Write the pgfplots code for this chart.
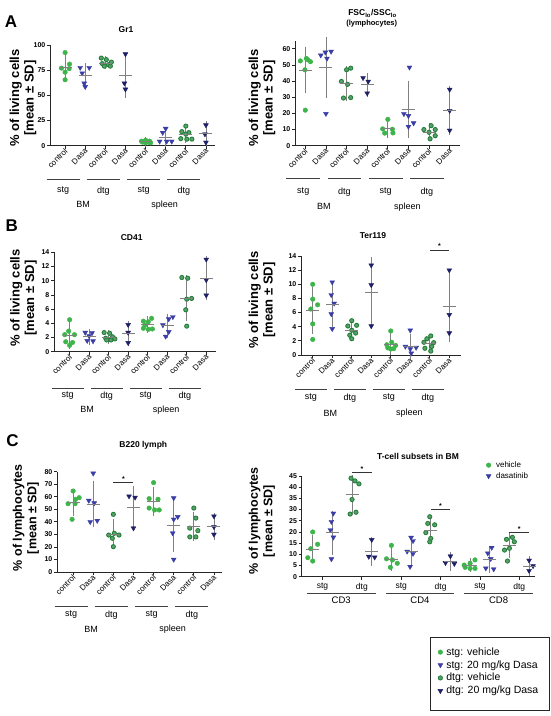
\documentclass[border=0pt]{standalone}
\usepackage{fontspec}
\setmainfont{Liberation Sans}
\usepackage{pgfplots}
\pgfplotsset{compat=1.18}
\definecolor{lgreen}{HTML}{3DB54A}
\definecolor{dgreen}{HTML}{23803A}
\definecolor{mblue}{HTML}{3A3DA6}
\definecolor{navy}{HTML}{1E1F66}
\definecolor{errgray}{HTML}{808080}
\tikzset{
  grp/.style={line width=0.8pt, black!75},
  glab/.style={font=\fontsize{9}{10}\selectfont, inner sep=0pt},
  ttl/.style={font=\bfseries\fontsize{8.5}{10}\selectfont, inner sep=0pt},
  ylab/.style={font=\bfseries\fontsize{13}{14.5}\selectfont, align=center, rotate=90, inner sep=0pt},
  plet/.style={font=\bfseries\fontsize{17}{17}\selectfont, inner sep=0pt},
  sig/.style={line width=0.7pt, black!80},
  star/.style={font=\bfseries\fontsize{7}{7}\selectfont, inner sep=1pt, above},
}
\pgfplotsset{
  gp/.style={
    scale only axis, clip=false,
    axis lines=left, axis line style={-, line width=0.8pt, black!85},
    tick align=outside, major tick length=3pt,
    tick style={line width=0.8pt, black!85},
    ymin=0,
    yticklabel style={font=\bfseries\fontsize{7}{8}\selectfont, inner sep=1.5pt},
    /pgf/number format/assume math mode=true,
    xticklabel style={font=\fontsize{8.5}{9}\selectfont},
  },
  cat8/.style={
    xtick={0,...,7},
    xticklabels={control,Dasa,control,Dasa,control,Dasa,control,Dasa},
    xticklabel style={rotate=45, anchor=east, inner sep=1pt, yshift=-1.5pt, xshift=1pt, font=\fontsize{8}{9}\selectfont},
  },
  psc/.style={only marks, mark=*, mark size=2.3pt, mark options={draw=lgreen, fill=lgreen}},
  psD/.style={only marks, mark=triangle*, mark size=2.8pt, mark options={rotate=180, draw=mblue, fill=mblue}},
  pdc/.style={only marks, mark=*, mark size=2.1pt, mark options={draw=dgreen, fill=dgreen!75!white, line width=0.9pt}},
  pdD/.style={only marks, mark=triangle*, mark size=2.8pt, mark options={rotate=180, draw=navy, fill=navy}},
  lsc/.style={mark=*, mark size=2.3pt, mark options={draw=lgreen, fill=lgreen}},
  lsD/.style={mark=triangle*, mark size=2.8pt, mark options={rotate=180, draw=mblue, fill=mblue}},
  ldc/.style={mark=*, mark size=2.1pt, mark options={draw=dgreen, fill=dgreen!75!white, line width=0.9pt}},
  ldD/.style={mark=triangle*, mark size=2.8pt, mark options={rotate=180, draw=navy, fill=navy}},
  pst/.style={only marks, mark=-, mark size=6.5pt, mark options={line width=0.8pt, draw=errgray},
    error bars/.cd, y dir=both, y explicit,
    error bar style={line width=0.8pt, errgray},
    error mark options={line width=0.8pt, errgray, mark size=4pt}},
}
\newcommand{\groups}[3]{%
  \draw[grp] ([yshift=-#1]axis cs:-0.92,0) -- ([yshift=-#1]axis cs:0.72,0);
  \draw[grp] ([yshift=-#1]axis cs:1.08,0) -- ([yshift=-#1]axis cs:2.72,0);
  \draw[grp] ([yshift=-#1]axis cs:3.08,0) -- ([yshift=-#1]axis cs:4.72,0);
  \draw[grp] ([yshift=-#1]axis cs:5.08,0) -- ([yshift=-#1]axis cs:6.72,0);
  \node[glab] at ([yshift=-#2]axis cs:-0.1,0) {stg};
  \node[glab] at ([yshift=-#2]axis cs:1.9,0) {dtg};
  \node[glab] at ([yshift=-#2]axis cs:3.9,0) {stg};
  \node[glab] at ([yshift=-#2]axis cs:5.9,0) {dtg};
  \node[glab] at ([yshift=-#3]axis cs:0.9,0) {BM};
  \node[glab] at ([yshift=-#3]axis cs:4.95,0) {spleen};
}
\begin{document}
\begin{tikzpicture}
\useasboundingbox (0pt,0pt) rectangle (550pt,-716pt);

% ---------------- Gr1 ----------------
\begin{axis}[gp, cat8, at={(50pt,-145.7pt)}, anchor=south west, width=165pt, height=100.7pt,
  xmin=-0.75, xmax=7.45, ymax=100, ytick={0,25,50,75,100}]
\addplot[psc] table[row sep=\\] {x y\\ 0 92.5\\ 0.22 81\\ -0.18 77\\ 0.2 76.5\\ 0 73\\ 0 65.5\\
 4 5.5\\ 3.8 4.5\\ 4.2 4.5\\ 3.85 3.5\\ 4.15 3.5\\ 4 3\\ 4.25 2.8\\};
\addplot[psD] table[row sep=\\] {x y\\ 0.75 77.5\\ 1.2 77.5\\ 0.85 72\\ 0.95 62\\ 1 58.5\\
 5 17\\ 4.85 13\\ 4.7 4.3\\ 5.05 4.3\\ 5.3 4.3\\};
\addplot[pdc] table[row sep=\\] {x y\\ 1.8 87\\ 2.05 85.5\\ 2.3 83\\ 1.85 81.5\\ 2.15 80.5\\ 1.95 79\\ 2.25 79\\
 6 19.5\\ 5.8 14\\ 6.15 13\\ 6 11.5\\ 5.75 7\\ 6.05 6.5\\ 6.3 6.5\\};
\addplot[pdD] table[row sep=\\] {x y\\ 3 91\\ 2.95 62\\ 3 56\\ 7 20.5\\ 6.95 11.5\\ 7 3.3\\};
\addplot[pst] table[row sep=\\, x=x, y=m, y error=s] {x m s\\ 0 77.6 9.3\\ 1 69.5 8.2\\ 2 82.2 2.5\\ 3 69.5 18.5\\
 4 3.9 1.0\\ 5 8.6 6.0\\ 6 11.1 4.4\\ 7 11.8 8.6\\};
\groups{33.3pt}{45pt}{59pt}
\end{axis}

% ---------------- FSC ----------------
\begin{axis}[gp, cat8, at={(295pt,-145.7pt)}, anchor=south west, width=165pt, height=105pt,
  xmin=-0.5, xmax=7.5, ymax=65, ytick={0,10,...,60}]
\addplot[psc] table[row sep=\\] {x y\\ -0.24 52.5\\ 0.05 54\\ 0.25 52\\ 0.12 53.2\\ -0.02 47\\ 0 22\\
 4 16.3\\ 3.75 10.4\\ 4.22 10.2\\ 3.85 7.8\\ 4.25 7.9\\};
\addplot[psD] table[row sep=\\] {x y\\ 0.75 56\\ 0.97 57.8\\ 1.25 58.3\\ 1.05 54\\ 1 19.8\\
 5.05 48.5\\ 4.78 19.7\\ 5 18.5\\ 5.25 14\\ 5 11.8\\};
\addplot[pdc] table[row sep=\\] {x y\\ 2.2 48\\ 2 47\\ 1.75 39.8\\ 2.05 38\\ 2.2 29.8\\ 1.85 29.5\\
 6.1 12.4\\ 5.75 10\\ 6.3 10\\ 6 8.3\\ 6.3 6.2\\ 6.05 4.3\\};
\addplot[pdD] table[row sep=\\] {x y\\ 2.8 42\\ 3.05 39.8\\ 3 32.5\\ 7 34.8\\ 7 21.7\\ 7 9.5\\};
\addplot[pst] table[row sep=\\, x=x, y=m, y error=s] {x m s\\ 0 46.8 12\\ 1 48.5 16.4\\ 2 38.7 8.3\\ 3 37.7 4.8\\
 4 10.5 3.3\\ 5 22.3 15\\ 6 8.3 3\\ 7 22 12.7\\};
\groups{33pt}{46pt}{61pt}
\end{axis}

% ---------------- CD41 ----------------
\begin{axis}[gp, cat8, at={(54pt,-351.7pt)}, anchor=south west, width=162pt, height=99.4pt,
  xmin=-0.8, xmax=7.5, ymax=14, ytick={0,2,...,14}]
\addplot[psc] table[row sep=\\] {x y\\ 0 4.5\\ -0.05 2.9\\ -0.25 2.4\\ 0.25 2.4\\ -0.2 1.4\\ 0.15 1.3\\ 0 0.9\\
 4.2 4.7\\ 3.78 4.3\\ 4.03 4.2\\ 3.86 3.75\\ 3.78 3.3\\ 4.03 3.15\\ 4.24 3.2\\};
\addplot[psD] table[row sep=\\] {x y\\ 0.8 2.7\\ 1.15 2.65\\ 1 2.2\\ 0.9 1.55\\ 1.2 1.5\\
 5.29 4.9\\ 5.08 4.6\\ 4.78 3.75\\ 5.08 2.8\\ 4.92 2.15\\};
\addplot[pdc] table[row sep=\\] {x y\\ 1.77 2.7\\ 2.05 2.6\\ 2.2 2.1\\ 1.85 1.9\\ 2.32 1.8\\ 1.9 1.65\\ 2.12 1.65\\
 5.75 10.45\\ 6.05 10.35\\ 6.25 7.5\\ 6 7.4\\ 5.95 5.9\\ 6 3.6\\};
\addplot[pdD] table[row sep=\\] {x y\\ 3 3.8\\ 3 2.7\\ 3 1.25\\ 7 13\\ 7 10.1\\ 7 7.95\\};
\addplot[pst] table[row sep=\\, x=x, y=m, y error=s] {x m s\\ 0 2.26 1.3\\ 1 2.12 0.55\\ 2 2.06 0.42\\ 3 2.58 1.25\\
 4 3.8 0.6\\ 5 3.64 1.15\\ 6 7.53 2.7\\ 7 10.35 2.55\\};
\groups{36.6pt}{44pt}{58pt}
\end{axis}

% ---------------- Ter119 ----------------
\begin{axis}[gp, cat8, at={(301pt,-355pt)}, anchor=south west, width=160pt, height=99pt,
  xmin=-0.6, xmax=7.6, ymax=14, ytick={0,2,...,14}]
\addplot[psc] table[row sep=\\] {x y\\ 0 10\\ 0 7.9\\ 0.25 7.1\\ -0.1 6.5\\ 0 4.4\\ 0 2.2\\
 4 3.4\\ 4.05 1.8\\ 3.8 1.45\\ 4.25 1.35\\ 3.85 1.0\\ 4.15 0.9\\ 4 0.85\\};
\addplot[psD] table[row sep=\\] {x y\\ 1 10.3\\ 0.95 8.5\\ 1.1 7.3\\ 0.95 5.8\\ 1 3.7\\
 5 3.5\\ 4.75 1.2\\ 5.3 1.05\\ 5 0.85\\ 5.05 0.25\\};
\addplot[pdc] table[row sep=\\] {x y\\ 2 4.85\\ 2.25 4.2\\ 1.8 4.1\\ 2 3.5\\ 2.2 3.1\\ 1.9 2.8\\ 2 2.3\\
 6.05 2.7\\ 5.85 2.3\\ 5.7 1.8\\ 6.2 1.75\\ 6.1 1.2\\ 5.75 0.95\\ 6.05 0.55\\};
\addplot[pdD] table[row sep=\\] {x y\\ 3 12.7\\ 3 9.9\\ 3 4.1\\ 7 12\\ 7 5.7\\ 7 3.1\\};
\addplot[pst] table[row sep=\\, x=x, y=m, y error=s] {x m s\\ 0 6.35 2.75\\ 1 7.1 2.55\\ 2 3.55 0.85\\ 3 8.9 4.35\\
 4 1.54 0.95\\ 5 1.25 1.2\\ 6 1.6 0.8\\ 7 6.9 4.5\\};
\draw[sig] (axis cs:6,14.85) -- (axis cs:7,14.85);
\node[star] at (axis cs:6.5,14.85) {*};
\groups{34pt}{43pt}{58pt}
\end{axis}

% ---------------- B220 ----------------
\begin{axis}[gp, cat8, at={(57pt,-572pt)}, anchor=south west, width=165pt, height=100.3pt,
  xmin=-0.8, xmax=7.4, ymax=80, ytick={0,10,...,80}]
\addplot[psc] table[row sep=\\] {x y\\ 0 64.6\\ 0.3 59.3\\ 0.12 58\\ -0.25 54.5\\ 0.1 54.5\\ -0.05 42\\
 4 71.3\\ 3.78 58.5\\ 4.22 58\\ 3.78 51\\ 4.05 49.5\\ 4.28 49.5\\};
\addplot[psD] table[row sep=\\] {x y\\ 1 78.7\\ 0.78 57\\ 1.05 55\\ 1.2 41\\ 0.85 40\\
 5 59\\ 5.2 44\\ 5 42\\ 4.95 31\\ 5 10\\};
\addplot[pdc] table[row sep=\\] {x y\\ 2 46\\ 1.77 29.5\\ 2.05 30.9\\ 2.28 29.5\\ 1.95 26.9\\ 2 20.2\\
 6 51\\ 6.1 43\\ 5.8 35\\ 6.2 33\\ 5.8 28\\ 6.1 28\\};
\addplot[pdD] table[row sep=\\] {x y\\ 2.78 60.5\\ 3.08 59.5\\ 3 35\\ 7 44.5\\ 7 36\\ 7 30\\};
\addplot[pst] table[row sep=\\, x=x, y=m, y error=s] {x m s\\ 0 55.2 7.4\\ 1 54.3 15.5\\ 2 30.2 8.7\\ 3 51.7 14\\
 4 56 8.4\\ 5 37.2 18.2\\ 6 36.3 8.3\\ 7 36.5 7.5\\};
\draw[sig] (axis cs:2,71.3) -- (axis cs:3,71.3);
\node[star] at (axis cs:2.5,71.3) {*};
\groups{34.7pt}{43pt}{57.3pt}
\end{axis}

% ---------------- T-cell ----------------
\begin{axis}[gp, at={(301.7pt,-576.7pt)}, anchor=south west, width=233.3pt, height=100.7pt,
  xmin=-0.56, xmax=11.3, ymax=45, ytick={0,5,...,45},
  xtick={0.5,2.5,4.5,6.5,8.5,10.5}, xticklabels={stg,dtg,stg,dtg,stg,dtg},
  legend image code/.code={\draw[#1] plot coordinates {(0pt,0pt)};},
  legend style={draw=none, fill=none, inner sep=0pt, at={(0.79,1.156)}, anchor=north west,
    font=\fontsize{8}{9}\selectfont, row sep=1.6pt, nodes={inner sep=1pt},
    /tikz/every odd column/.style={column sep=4pt}},
  legend cell align=left]
\addlegendimage{lsc}\addlegendentry{vehicle}
\addlegendimage{lsD}\addlegendentry{dasatinib}
\addplot[psc] table[row sep=\\] {x y\\ 0 20\\ 0.25 14.5\\ -0.1 12.5\\ -0.25 8.5\\ 0 7\\
 4 14\\ 3.75 8\\ 4.05 7.5\\ 4.3 6\\ 3.95 4.2\\
 7.7 5.2\\ 8 6\\ 8.25 7.5\\ 7.75 4.2\\ 8 3.7\\ 8.25 3.7\\};
\addplot[psD] table[row sep=\\] {x y\\ 1.05 28.3\\ 0.95 24.6\\ 0.9 20.9\\ 1.05 17.6\\ 0.95 7.9\\
 5 17.5\\ 5.1 16\\ 4.8 11.3\\ 5.1 10.3\\ 4.95 4.5\\
 9.1 13\\ 8.9 10.5\\ 9.05 8\\ 8.8 3.8\\ 9.2 3.4\\};
\addplot[pdc] table[row sep=\\] {x y\\ 1.95 44\\ 2.15 42.8\\ 2.35 41.5\\ 2 34.5\\ 2.2 28.8\\ 1.9 28\\
 5.95 26.8\\ 5.85 23.8\\ 6.2 23.2\\ 5.75 19.7\\ 6 17.1\\ 5.95 15.6\\
 10.15 17.6\\ 9.85 16.7\\ 10.25 15.6\\ 10 12.7\\ 9.75 11.9\\ 9.9 7\\};
\addplot[pdD] table[row sep=\\] {x y\\ 3 16.5\\ 2.85 9\\ 3.15 8.7\\ 7 9.2\\ 6.75 6.2\\ 7.2 5.8\\
 11 7.3\\ 11.2 4.8\\ 11 2.7\\};
\addplot[pst] table[row sep=\\, x=x, y=m, y error=s] {x m s\\ 0 12.3 4.5\\ 1 19.7 8.1\\ 2 36.6 7.1\\ 3 11.3 4.6\\
 4 7.9 3.6\\ 5 11.2 5.1\\ 6 20.9 4.4\\ 7 6.8 2.4\\ 8 5.1 1.3\\ 9 7.7 4.2\\ 10 14.2 4.0\\ 11 4.8 2.5\\};
\draw[sig] (axis cs:2,46.5) -- (axis cs:3,46.5);
\node[star] at (axis cs:2.5,46.5) {*};
\draw[sig] (axis cs:6,30.1) -- (axis cs:7,30.1);
\node[star] at (axis cs:6.5,30.1) {*};
\draw[sig] (axis cs:10,19.8) -- (axis cs:11,19.8);
\node[star] at (axis cs:10.5,19.8) {*};
\draw[grp] ([yshift=-16.6pt]axis cs:-0.3,0) -- ([yshift=-16.6pt]axis cs:3.2,0);
\draw[grp] ([yshift=-16.6pt]axis cs:3.7,0) -- ([yshift=-16.6pt]axis cs:7.2,0);
\draw[grp] ([yshift=-16.6pt]axis cs:7.7,0) -- ([yshift=-16.6pt]axis cs:11.2,0);
\node[glab, font=\fontsize{9.5}{10}\selectfont] at ([yshift=-24pt]axis cs:1.45,0) {CD3};
\node[glab, font=\fontsize{9.5}{10}\selectfont] at ([yshift=-24pt]axis cs:5.45,0) {CD4};
\node[glab, font=\fontsize{9.5}{10}\selectfont] at ([yshift=-24pt]axis cs:9.45,0) {CD8};
\end{axis}

% ---------------- bottom legend ----------------
\draw[line width=0.8pt, black!85] (430pt,-637.3pt) rectangle (549.2pt,-710pt);
\begin{axis}[at={(430pt,-710pt)}, anchor=south west, scale only axis, width=119.3pt, height=72.7pt,
  hide axis, xmin=0, xmax=1, ymin=0, ymax=1,
  legend image code/.code={\draw[#1] plot coordinates {(0pt,0pt)};},
  legend style={draw=none, fill=none, inner sep=0pt, at={(0.065,0.53)}, anchor=west,
    font=\fontsize{10.5}{12}\selectfont, row sep=1.8pt, nodes={inner sep=1pt},
    /tikz/every odd column/.style={column sep=2.5pt}},
  legend cell align=left]
\addlegendimage{lsc}\addlegendentry{stg: vehicle}
\addlegendimage{lsD}\addlegendentry{stg: 20 mg/kg Dasa}
\addlegendimage{ldc}\addlegendentry{dtg: vehicle}
\addlegendimage{ldD}\addlegendentry{dtg: 20 mg/kg Dasa}
\end{axis}

% ---------------- titles, labels, letters ----------------
\node[plet] at (11pt,-21.7pt) {A};
\node[plet] at (11.7pt,-226pt) {B};
\node[plet] at (12.5pt,-441pt) {C};
\node[ttl] at (126pt,-30pt) {Gr1};
\node[ttl] at (372.5pt,-13.3pt) {FSC\textsubscript{lo}/SSC\textsubscript{lo}};
\node[ttl, font=\bfseries\fontsize{7.5}{8}\selectfont] at (371.7pt,-24pt) {(lymphocytes)};
\node[ttl] at (131.7pt,-238pt) {CD41};
\node[ttl] at (373pt,-236pt) {Ter119};
\node[ttl] at (143.3pt,-445pt) {B220 lymph};
\node[ttl] at (418pt,-456pt) {T-cell subsets in BM};
\node[ylab] at (23pt,-98pt) {\% of living cells\\{[}mean ± SD{]}};
\node[ylab] at (262pt,-98pt) {\% of living cells\\{[}mean ± SD{]}};
\node[ylab] at (23.5pt,-298pt) {\% of living cells\\{[}mean ± SD{]}};
\node[ylab] at (262pt,-300pt) {\% of living cells\\{[}mean ± SD{]}};
\node[ylab, font=\bfseries\fontsize{12.5}{14.5}\selectfont] at (26pt,-518pt) {\% of lymphocytes\\{[}mean ± SD{]}};
\node[ylab, font=\bfseries\fontsize{12.5}{14.5}\selectfont] at (262pt,-521pt) {\% of lymphocytes\\{[}mean ± SD{]}};
\end{tikzpicture}
\end{document}
